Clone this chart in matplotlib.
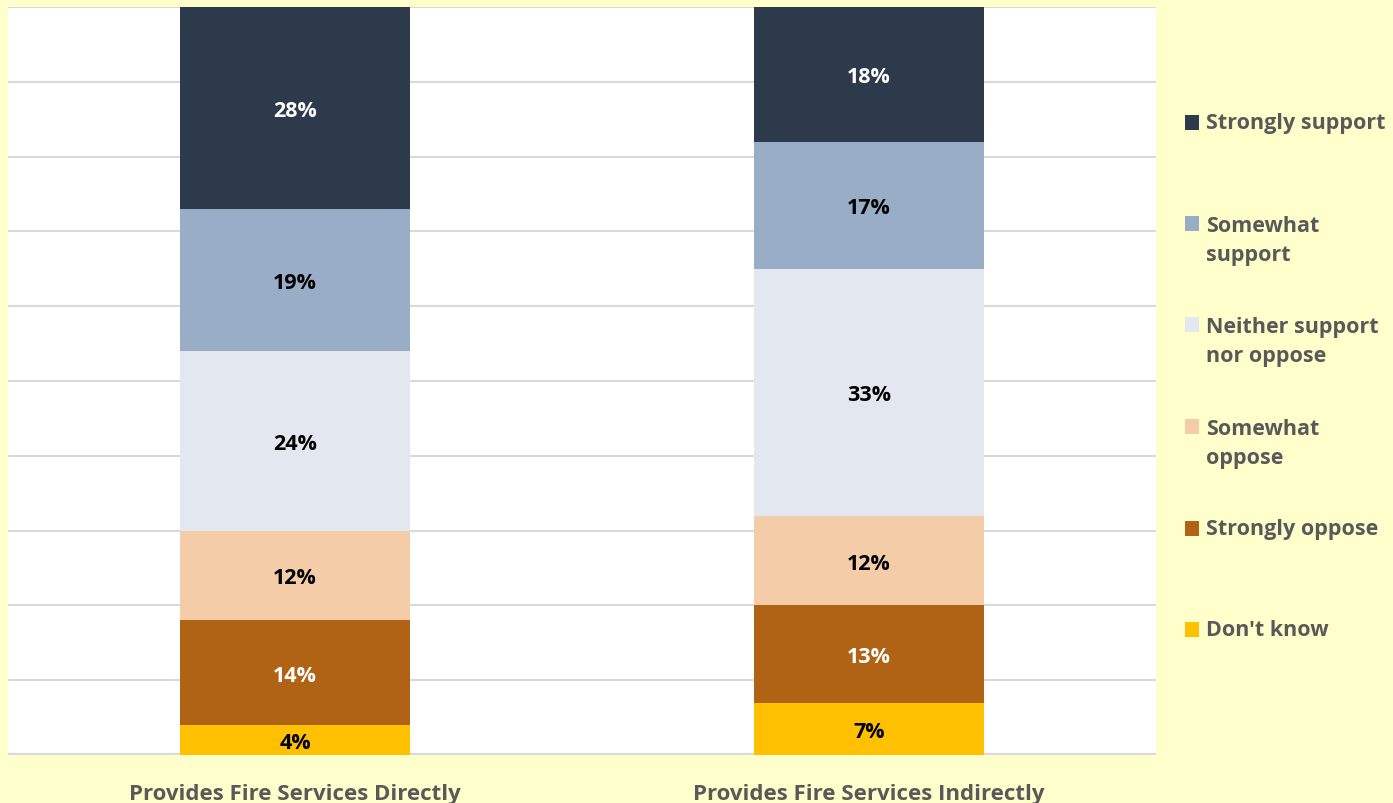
import numpy as np
import matplotlib.pyplot as plt
from matplotlib.patches import Rectangle

# -----------------------------
# Data
# -----------------------------

groups = ["Provides Fire Services Directly", "Provides Fire Services Indirectly"]

responses = [
    "Don't know",
    "Strongly oppose",
    "Somewhat\noppose",
    "Neither support\nnor oppose",
    "Somewhat\nsupport",
    "Strongly support",
]

directly = [4, 14, 12, 24, 19, 28]
indirectly = [7, 13, 12, 33, 17, 18]

colors = ["#FFC000", "#B06215", "#F4CCA7", "#E2E7F0", "#99ADC6", "#2C3A4B"]
label_colors = ["black", "white", "black", "black", "black", "white"]

# legend entry centres (figure fraction, bottom to top)
legend_y = [0.216, 0.341, 0.448, 0.575, 0.700, 0.846]

plt.rcParams["font.family"] = ["Open Sans", "DejaVu Sans"]
plt.rcParams["font.weight"] = "bold"

bg = "#FFFFCC"
text_gray = "#595959"

# -----------------------------
# Plot
# -----------------------------

fig = plt.figure(figsize=(13.93, 8.04), dpi=100, facecolor=bg)
ax = fig.add_axes([0.0057, 0.0597, 0.8243, 0.9303])
ax.set_facecolor("white")

values = np.array([directly, indirectly], dtype=float) / 100
x = np.arange(len(groups))
bottom = np.zeros(len(groups))

for i, resp in enumerate(responses):
    vals = values[:, i]
    ax.bar(x, vals, width=0.4, bottom=bottom, color=colors[i], zorder=3)
    for xi, v, b in zip(x, vals, bottom):
        top = min(b + v, 1.0)
        ax.text(xi, (b + top) / 2, f"{v*100:.0f}%", ha="center",
                va="center_baseline", fontsize=15.5, fontweight="bold",
                color=label_colors[i], zorder=4)
    bottom += vals

ax.set_xlim(-0.5, 1.5)
ax.set_ylim(0, 1)
ax.set_yticks(np.arange(0, 1.01, 0.1))
ax.yaxis.grid(True, color="#D9D9D9", linewidth=1.5, zorder=0)
ax.tick_params(axis="y", left=False, labelleft=False)
ax.tick_params(axis="x", bottom=False, pad=17)
ax.set_xticks(x)
ax.set_xticklabels(groups, fontsize=16, fontweight="bold", color=text_gray)
for s in ax.spines.values():
    s.set_visible(False)
ax.axhline(0, color="#D9D9D9", linewidth=3, zorder=2)

# legend drawn by hand to follow the reference spacing
for resp, c, ly in zip(responses, colors, legend_y):
    n_lines = resp.count("\n") + 1
    first_line_y = ly + (n_lines - 1) * 0.0205
    fig.patches.append(Rectangle((0.8505, first_line_y - 0.0095), 0.0105, 0.019,
                                 transform=fig.transFigure, facecolor=c,
                                 edgecolor="none"))
    fig.text(0.8655, ly, resp, ha="left", va="center", fontsize=15.5,
             fontweight="bold", color=text_gray, linespacing=1.5)

fig.savefig("out.png", dpi=100, facecolor=bg)
